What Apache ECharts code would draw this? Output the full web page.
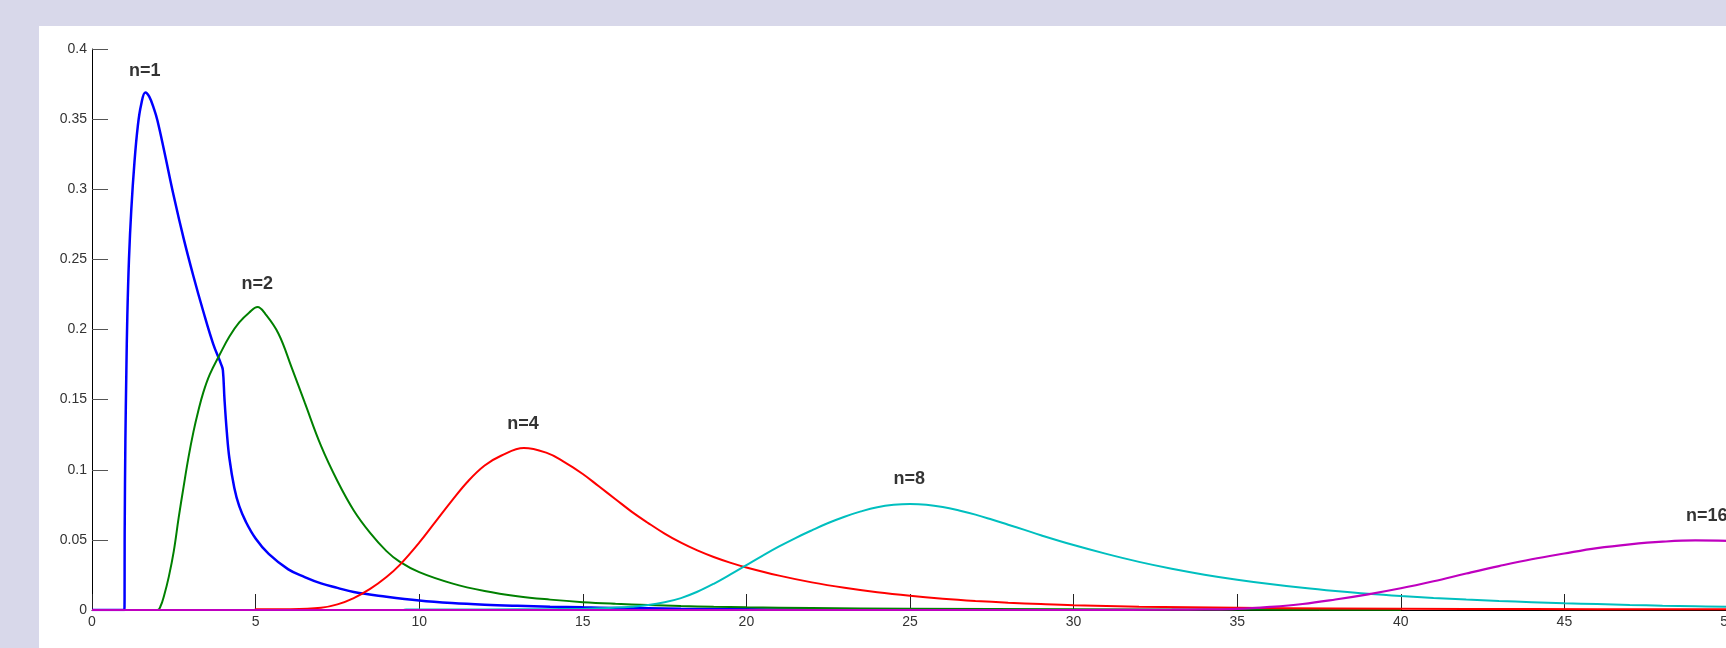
<!DOCTYPE html>
<html>
<head>
<meta charset="utf-8">
<script src="https://cdn.jsdelivr.net/npm/echarts@6/dist/echarts.min.js"></script>
<style>
  html, body { margin: 0; padding: 0; }
  body { width: 1726px; height: 648px; background: #d8d8ea; position: relative; overflow: hidden; }
  #panel { position: absolute; left: 39px; top: 26px; right: 0; bottom: 0; background: #ffffff; }
  /* the plot runs a little past the right edge of the page, so the canvas is wider than the page */
  #chart { position: absolute; left: 0; top: 0; width: 1800px; height: 648px; }
</style>
</head>
<body>
<div id="panel"></div>
<div id="chart"></div>
<script>
// Density curves, one per n, as [x, y] pairs
const curveN1 = [
  [0, 0], [0.99, 0], [1.0, 0.06], [1.02, 0.12], [1.05, 0.17], [1.08, 0.21], [1.13, 0.25],
  [1.2, 0.285], [1.3, 0.32], [1.4, 0.345], [1.5, 0.36], [1.63, 0.369], [1.75, 0.366],
  [1.9, 0.357], [2.0, 0.349], [2.2, 0.328], [2.5, 0.295], [2.8, 0.265], [3.1, 0.238],
  [3.4, 0.213], [3.7, 0.19], [3.95, 0.175], [4.0, 0.171], [4.05, 0.15], [4.12, 0.127],
  [4.2, 0.108], [4.35, 0.087], [4.5, 0.074], [4.7, 0.063], [5.0, 0.051], [5.4, 0.040],
  [6.0, 0.029], [6.5, 0.0235], [7.0, 0.019], [7.5, 0.0158], [8.0, 0.0128], [9.0, 0.0095],
  [10, 0.0068], [11, 0.005], [12, 0.0038], [13, 0.003], [14, 0.0024], [15, 0.0019],
  [16, 0.0015], [17, 0.0012], [18, 0.0009], [20, 0.0005], [22, 0.0003]
];
const curveN2 = [
  [0, 0], [2.0, 0], [2.1, 0.003], [2.2, 0.01], [2.35, 0.024], [2.5, 0.042], [2.65, 0.066],
  [2.8, 0.088], [2.95, 0.109], [3.1, 0.127], [3.25, 0.142], [3.4, 0.155], [3.6, 0.168],
  [3.9, 0.182], [4.2, 0.195], [4.5, 0.205], [4.8, 0.212], [5.06, 0.216], [5.3, 0.211],
  [5.7, 0.197], [6.1, 0.173], [6.5, 0.148], [7.0, 0.117], [7.5, 0.092], [8.0, 0.071],
  [8.5, 0.055], [9.0, 0.042], [9.4, 0.0345], [10, 0.027], [11, 0.019], [12, 0.0135],
  [13, 0.0098], [14, 0.0074], [15, 0.0056], [16, 0.0044], [17, 0.0035], [18, 0.0028],
  [19, 0.0023], [20, 0.0019], [22, 0.0014], [25, 0.0009], [30, 0.0005], [35, 0.0003],
  [40, 0.0002]
];
const curveN4 = [
  [0, 0], [4.99, 0], [5, 0.0005], [6, 0.0006], [7, 0.0016], [7.5, 0.004], [8, 0.0085],
  [8.5, 0.015], [9, 0.0235], [9.4, 0.032], [10, 0.048], [10.5, 0.063], [11, 0.078],
  [11.5, 0.092], [12, 0.103], [12.5, 0.110], [13.2, 0.1155], [13.9, 0.112], [14.4, 0.106],
  [15, 0.097], [15.5, 0.088], [16, 0.079], [16.5, 0.070], [17, 0.062], [17.5, 0.0545],
  [18, 0.048], [18.5, 0.0425], [19, 0.0378], [19.5, 0.0338], [20, 0.0303], [21, 0.0245],
  [22, 0.0197], [23, 0.0158], [24, 0.0126], [25, 0.0101], [26, 0.0081], [27, 0.0065],
  [28, 0.0052], [29, 0.0042], [30, 0.0034], [32, 0.0024], [35, 0.0016], [38, 0.0011],
  [42, 0.0008], [46, 0.0006], [50, 0.0005]
];
const curveN8 = [
  [0, 0], [9.5, 0], [9.6, 0.0004], [12, 0.0004], [14, 0.0006], [15, 0.0008], [16, 0.0017],
  [16.5, 0.0024], [17, 0.0035], [17.5, 0.0055], [18, 0.0085], [18.5, 0.013], [19, 0.0187],
  [19.5, 0.0252], [20, 0.032], [20.5, 0.0388], [21, 0.0453], [21.5, 0.0513], [22, 0.0568],
  [22.5, 0.062], [23, 0.0665], [23.5, 0.0703], [24, 0.0733], [24.5, 0.075], [25, 0.0756],
  [25.5, 0.0751], [26, 0.0735], [26.5, 0.071], [27, 0.068], [27.5, 0.0645], [28, 0.0608],
  [28.5, 0.0571], [29, 0.0533], [30, 0.0463], [31, 0.04], [32, 0.0343], [33, 0.0294],
  [34, 0.0252], [35, 0.0216], [36, 0.0185], [37, 0.0158], [38, 0.0135], [39, 0.0115],
  [40, 0.0099], [41, 0.0086], [42, 0.0075], [43, 0.0065], [44, 0.0056], [45, 0.0048],
  [46, 0.0042], [47, 0.0036], [48, 0.0031], [49, 0.0027], [50, 0.0023]
];
const curveN16 = [
  [0, 0], [30, 0], [33, 0.0002], [34, 0.0004], [35, 0.0008], [36, 0.0022], [37, 0.0043],
  [38, 0.0075], [39, 0.0112], [40, 0.0155], [41, 0.0205], [42, 0.026], [43, 0.0313],
  [44, 0.0362], [45, 0.0403], [46, 0.0441], [47, 0.0468], [48, 0.0487], [49, 0.0496],
  [50, 0.0493]
];

// Curve annotations: text and where it sits in data units
const labelText = ['n=1', 'n=2', 'n=4', 'n=8', 'n=16'];
const labelX = [1.61, 5.05, 13.17, 24.98, 49.35];
const labelY = [0.384, 0.2324, 0.1328, 0.0935, 0.067];

// Axis ranges and ticks
const xMin = 0, xMax = 50, xStep = 5;
const yMin = 0, yMax = 0.4, yStep = 0.05;

const curves = [
  { data: curveN1, color: '#0000ff', width: 2.5 },
  { data: curveN2, color: '#008000', width: 2 },
  { data: curveN4, color: '#ff0000', width: 2 },
  { data: curveN8, color: '#00bfbf', width: 2 },
  { data: curveN16, color: '#bf00bf', width: 2.2 }
];

const chart = echarts.init(document.getElementById('chart'), null, { renderer: 'canvas' });

const lineSeries = curves.map(c => ({
  type: 'line',
  data: c.data,
  showSymbol: false,
  smooth: 0.4,
  lineStyle: { color: c.color, width: c.width },
  silent: true,
  z: 3
}));

const textSeries = {
  type: 'scatter',
  data: labelText.map((t, i) => [labelX[i], labelY[i], t]),
  symbolSize: 1,
  itemStyle: { color: 'rgba(0,0,0,0)' },
  label: {
    show: true,
    position: 'inside',
    formatter: p => p.data[2],
    color: '#000',
    fontFamily: 'Liberation Sans, Arial, sans-serif',
    fontWeight: 'bold',
    fontSize: 18
  },
  silent: true,
  z: 5
};

chart.setOption({
  animation: false,
  backgroundColor: 'transparent',
  grid: { left: 92, top: 49, width: 1636, height: 561, containLabel: false },
  xAxis: {
    type: 'value',
    min: xMin, max: xMax, interval: xStep,
    axisLine: { show: true, lineStyle: { color: '#000', width: 1 } },
    axisTick: { show: true, inside: true, length: 16, lineStyle: { color: '#222', width: 1 } },
    axisLabel: { color: '#333', fontSize: 14, fontFamily: 'Liberation Sans, Arial, sans-serif', margin: 5 },
    splitLine: { show: false }
  },
  yAxis: {
    type: 'value',
    min: yMin, max: yMax, interval: yStep,
    axisLine: { show: true, lineStyle: { color: '#000', width: 1 } },
    axisTick: { show: true, inside: true, length: 16, lineStyle: { color: '#555', width: 1 } },
    axisLabel: { color: '#333', fontSize: 14, fontFamily: 'Liberation Sans, Arial, sans-serif', margin: 5 },
    splitLine: { show: false }
  },
  series: lineSeries.concat([textSeries])
});
</script>
</body>
</html>
